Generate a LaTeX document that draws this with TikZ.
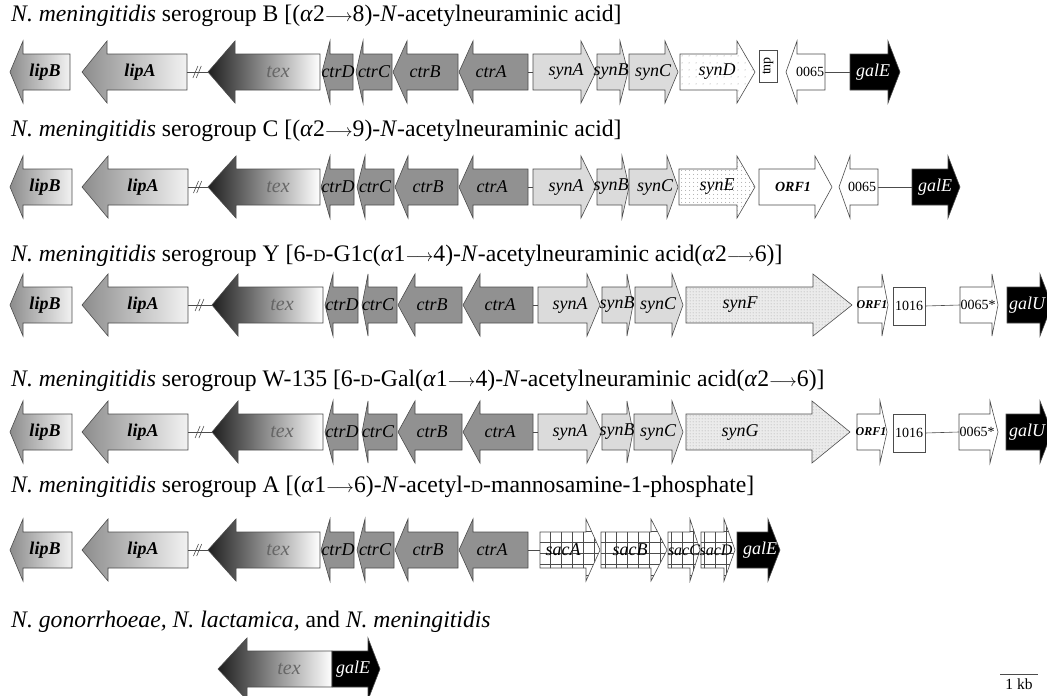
\documentclass[tikz,border=0pt]{standalone}
\usepackage{fontspec}
\usepackage{graphicx}
\setmainfont{Liberation Serif}
\usetikzlibrary{patterns}
\pgfdeclarepatternformonly{sparsedots}{\pgfqpoint{0pt}{0pt}}{\pgfqpoint{7pt}{7pt}}{\pgfqpoint{7pt}{7pt}}{\pgfpathcircle{\pgfqpoint{3.5pt}{3.5pt}}{0.55pt}\pgfusepath{fill}}
\pgfdeclarepatternformonly{mediumdots}{\pgfqpoint{0pt}{0pt}}{\pgfqpoint{4pt}{4pt}}{\pgfqpoint{4pt}{4pt}}{\pgfpathcircle{\pgfqpoint{2pt}{2pt}}{0.5pt}\pgfusepath{fill}}
\pgfdeclarepatternformonly{densedots}{\pgfqpoint{0pt}{0pt}}{\pgfqpoint{2.6pt}{2.6pt}}{\pgfqpoint{2.6pt}{2.6pt}}{\pgfpathcircle{\pgfqpoint{1.3pt}{1.3pt}}{0.45pt}\pgfusepath{fill}}
\pgfdeclarepatternformonly{sacgrid}{\pgfqpoint{-1pt}{-1pt}}{\pgfqpoint{12pt}{12pt}}{\pgfqpoint{11pt}{11pt}}{\pgfsetlinewidth{0.6pt}\pgfpathmoveto{\pgfqpoint{0pt}{0pt}}\pgfpathlineto{\pgfqpoint{0pt}{11.1pt}}\pgfpathmoveto{\pgfqpoint{0pt}{0pt}}\pgfpathlineto{\pgfqpoint{11.1pt}{0pt}}\pgfusepath{stroke}}
% right-pointing gene: name, tail, base, tip, yc, fill style, label, label x
\newcommand\gR[8]{%
  \path[gene,#6] (#2,#5-18) -- (#3,#5-18) -- (#3,#5-31) -- (#4,#5) -- (#3,#5+31) -- (#3,#5+18) -- (#2,#5+18) -- cycle;
  \coordinate (#1-t) at (#2,#5);
  \coordinate (#1-h) at (#4,#5);
  \node[glabel] (#1) at (#8,#5) {#7};}
% left-pointing gene: name, tip, base, tail, yc, fill style, label, label x
\newcommand\gL[8]{%
  \path[gene,#6] (#2,#5) -- (#3,#5-31) -- (#3,#5-18) -- (#4,#5-18) -- (#4,#5+18) -- (#3,#5+18) -- (#3,#5+31) -- cycle;
  \coordinate (#1-h) at (#2,#5);
  \coordinate (#1-t) at (#4,#5);
  \node[glabel] (#1) at (#8,#5) {#7};}
\newcommand\brk[1]{%
  \draw[conn] (#1-lipA-t) -- (#1-tex-h);
  \path (#1-lipA-t) -- (#1-tex-h) coordinate[pos=0.40] (#1-b1) coordinate[pos=0.56] (#1-b2);
  \draw[conn] ([shift={(-2.5,6)}]#1-b1) -- ([shift={(2.5,-6)}]#1-b1);
  \draw[conn] ([shift={(-2.5,6)}]#1-b2) -- ([shift={(2.5,-6)}]#1-b2);}
\newcommand\arr{{\fontsize{17}{17}\selectfont$\longrightarrow$}}
\newcommand\smD{{\fontsize{17}{17}\selectfont D}}
\newcommand\texlab{{\fontsize{20}{20}\selectfont\color{black!60}tex}}
\newcommand\numlab[1]{\upshape\fontsize{14}{14}\selectfont #1}
\begin{document}
\begin{tikzpicture}[x=1pt,y=-1pt,
  gene/.style={draw=black!70,line width=0.6pt},
  glabel/.style={font=\fontsize{18}{18}\selectfont\itshape,inner sep=0pt},
  conn/.style={draw=black!70,line width=0.6pt},
  boxgene/.style={draw=black!70,line width=0.6pt,fill=white,inner sep=0pt,font=\fontsize{14}{14}\selectfont},
  title/.style={anchor=west,inner sep=0pt,font=\fontsize{23.7}{24}\selectfont},
  lipfill/.style={left color=black!45,right color=black!5},
  texfill/.style={left color=black!88,right color=white},
  ctrfill/.style={fill=black!43},
  synfill/.style={fill=black!14},
  sparse/.style={fill=white,postaction={pattern=sparsedots,pattern color=black!50}},
  medium/.style={fill=white,postaction={pattern=mediumdots,pattern color=black!50}},
  dense/.style={fill=black!8,postaction={pattern=densedots,pattern color=black!45}},
  sacfill/.style={fill=white,postaction={pattern=sacgrid,pattern color=black!70}},
  blackfill/.style={fill=black},
  whitefill/.style={fill=white}]
\useasboundingbox (0,0) rectangle (1047,696);
\clip (0,0) rectangle (1047,696);

% ---------------- Serogroup B ----------------
\node[title] (tB) at (11,16) {\textit{N. meningitidis} serogroup B [(\textit{α}2\arr8)-\textit{N}-acetylneuraminic acid]};
\gL{B-lipB}{10}{23}{70}{72}{lipfill}{\bfseries lipB}{45}
\gL{B-lipA}{82}{107}{187}{72}{lipfill}{\bfseries lipA}{140}
\gL{B-tex}{208}{235}{320}{72}{texfill}{\texlab}{278}
\gL{B-ctrD}{322}{330}{353}{72}{ctrfill}{ctrD}{338}
\gL{B-ctrC}{356}{363}{392}{72}{ctrfill}{ctrC}{374}
\gL{B-ctrB}{393}{407}{458}{72}{ctrfill}{ctrB}{425}
\gL{B-ctrA}{459}{473}{528}{72}{ctrfill}{ctrA}{491}
\gR{B-synA}{533}{581}{596}{72}{synfill}{synA}{566}
\gR{B-synB}{597}{620}{628}{72}{synfill}{synB}{611}
\gR{B-synC}{629}{665}{678}{72}{synfill}{synC}{653}
\gR{B-synD}{680}{737}{755}{72}{sparse}{synD}{717}
\node[boxgene,minimum width=18pt,minimum height=32pt] (B-tnp) at (768,66) {\rotatebox{90}{tnp}};
\gL{B-0065}{786}{797}{825}{72}{whitefill}{\numlab{0065}}{810}
\gR{B-galE}{850}{888}{900}{72}{blackfill}{\color{white}galE}{873}
\brk{B}
\draw[conn] (B-ctrA-t) -- (B-synA-t);
\draw[conn] (B-0065-t) -- (B-galE-t);

% ---------------- Serogroup C ----------------
\node[title] (tC) at (11,131) {\textit{N. meningitidis} serogroup C [(\textit{α}2\arr9)-\textit{N}-acetylneuraminic acid]};
\gL{C-lipB}{10}{23}{72}{187}{lipfill}{\bfseries lipB}{45}
\gL{C-lipA}{82}{108}{188}{187}{lipfill}{\bfseries lipA}{143}
\gL{C-tex}{208}{236}{320}{187}{texfill}{\texlab}{278}
\gL{C-ctrD}{321}{330}{354}{187}{ctrfill}{ctrD}{338}
\gL{C-ctrC}{357}{365}{394}{187}{ctrfill}{ctrC}{375}
\gL{C-ctrB}{395}{408}{458}{187}{ctrfill}{ctrB}{428}
\gL{C-ctrA}{459}{473}{528}{187}{ctrfill}{ctrA}{492}
\gR{C-synA}{533}{581}{596}{187}{synfill}{synA}{566}
\gR{C-synB}{597}{622}{629}{187}{synfill}{synB}{611}
\gR{C-synC}{629}{667}{678}{187}{synfill}{synC}{655}
\gR{C-synE}{679}{737}{755}{187}{medium}{synE}{717}
\gR{C-ORF1}{759}{815}{832}{187}{whitefill}{\bfseries\fontsize{14}{14}\selectfont ORF1}{793}
\gL{C-0065}{839}{850}{878}{187}{whitefill}{\numlab{0065}}{862}
\gR{C-galE}{912}{948}{960}{187}{blackfill}{\color{white}galE}{935}
\brk{C}
\draw[conn] (C-ctrA-t) -- (C-synA-t);
\draw[conn] (C-0065-t) -- (C-galE-t);

% ---------------- Serogroup Y ----------------
\node[title] (tY) at (11,256) {\textit{N. meningitidis} serogroup Y [6-\smD-G1c(\textit{α}1\arr4)-\textit{N}-acetylneuraminic acid(\textit{α}2\arr6)]};
\gL{Y-lipB}{10}{23}{72}{305}{lipfill}{\bfseries lipB}{45}
\gL{Y-lipA}{82}{108}{188}{305}{lipfill}{\bfseries lipA}{143}
\gL{Y-tex}{212}{238}{323}{305}{texfill}{\texlab}{282}
\gL{Y-ctrD}{325}{333}{358}{305}{ctrfill}{ctrD}{342}
\gL{Y-ctrC}{362}{368}{397}{305}{ctrfill}{ctrC}{378}
\gL{Y-ctrB}{398}{415}{462}{305}{ctrfill}{ctrB}{432}
\gL{Y-ctrA}{463}{480}{533}{305}{ctrfill}{ctrA}{500}
\gR{Y-synA}{538}{587}{600}{305}{synfill}{synA}{570}
\gR{Y-synB}{602}{627}{633}{305}{synfill}{synB}{617}
\gR{Y-synC}{635}{672}{683}{305}{synfill}{synC}{658}
\gR{Y-synF}{686}{813}{852}{305}{dense}{synF}{740}
\gR{Y-ORF1}{858}{882}{888}{305}{whitefill}{\bfseries\fontsize{12}{12}\selectfont ORF1}{872}
\node[boxgene,minimum width=32pt,minimum height=38pt] (Y-1016) at (909,306) {1016};
\gR{Y-0065}{960}{992}{998}{305}{whitefill}{\numlab{0065*}}{978}
\gR{Y-galU}{1007}{1040}{1052}{305}{blackfill}{\color{white}galU}{1027}
\brk{Y}
\draw[conn] (Y-ctrA-t) -- (Y-synA-t);
\draw[conn] (Y-1016.east) -- (Y-0065-t);

% ---------------- Serogroup W-135 ----------------
\node[title] (tW) at (11,381) {\textit{N. meningitidis} serogroup W-135 [6-\smD-Gal(\textit{α}1\arr4)-\textit{N}-acetylneuraminic acid(\textit{α}2\arr6)]};
\gL{W-lipB}{10}{23}{72}{432}{lipfill}{\bfseries lipB}{45}
\gL{W-lipA}{82}{108}{188}{432}{lipfill}{\bfseries lipA}{143}
\gL{W-tex}{212}{238}{323}{432}{texfill}{\texlab}{282}
\gL{W-ctrD}{325}{333}{358}{432}{ctrfill}{ctrD}{342}
\gL{W-ctrC}{362}{368}{397}{432}{ctrfill}{ctrC}{378}
\gL{W-ctrB}{398}{415}{462}{432}{ctrfill}{ctrB}{432}
\gL{W-ctrA}{463}{480}{533}{432}{ctrfill}{ctrA}{500}
\gR{W-synA}{538}{587}{602}{432}{synfill}{synA}{570}
\gR{W-synB}{602}{627}{633}{432}{synfill}{synB}{617}
\gR{W-synC}{634}{672}{683}{432}{synfill}{synC}{658}
\gR{W-synG}{686}{812}{850}{432}{dense}{synG}{740}
\gR{W-ORF1}{857}{880}{887}{432}{whitefill}{\bfseries\fontsize{12}{12}\selectfont ORF1}{871}
\node[boxgene,minimum width=32pt,minimum height=38pt] (W-1016) at (909,433) {1016};
\gR{W-0065}{959}{990}{998}{432}{whitefill}{\numlab{0065*}}{977}
\gR{W-galU}{1006}{1040}{1052}{432}{blackfill}{\color{white}galU}{1027}
\brk{W}
\draw[conn] (W-ctrA-t) -- (W-synA-t);
\draw[conn] (W-1016.east) -- (W-0065-t);

% ---------------- Serogroup A ----------------
\node[title] (tA) at (11,487) {\textit{N. meningitidis} serogroup A [(\textit{α}1\arr6)-\textit{N}-acetyl-\smD-mannosamine-1-phosphate]};
\gL{A-lipB}{10}{23}{72}{550}{lipfill}{\bfseries lipB}{45}
\gL{A-lipA}{82}{108}{188}{550}{lipfill}{\bfseries lipA}{143}
\gL{A-tex}{208}{236}{320}{550}{texfill}{\texlab}{278}
\gL{A-ctrD}{321}{330}{354}{550}{ctrfill}{ctrD}{338}
\gL{A-ctrC}{357}{365}{394}{550}{ctrfill}{ctrC}{375}
\gL{A-ctrB}{395}{408}{458}{550}{ctrfill}{ctrB}{428}
\gL{A-ctrA}{459}{473}{528}{550}{ctrfill}{ctrA}{492}
\gR{A-sacA}{540}{586}{600}{550}{sacfill}{sacA}{563}
\gR{A-sacB}{601}{651}{667}{550}{sacfill}{sacB}{630}
\gR{A-sacC}{668}{690}{700}{550}{sacfill}{\fontsize{16}{16}\selectfont sacC}{684}
\gR{A-sacD}{701}{724}{735}{550}{sacfill}{\fontsize{16}{16}\selectfont sacD}{716}
\gR{A-galE}{737}{768}{780}{550}{blackfill}{\color{white}galE}{760}
\brk{A}
\draw[conn] (A-ctrA-t) -- (A-sacA-t);

% ---------------- tex / galE ----------------
\node[title] (tG) at (11,622) {\textit{N. gonorrhoeae, N. lactamica,} and \textit{N. meningitidis}};
\gL{G-tex}{218}{247}{332}{669}{texfill}{\texlab}{289}
\gR{G-galE}{332}{368}{380}{669}{blackfill}{\color{white}galE}{353}

% scale bar
\coordinate (sb-l) at (1000,674);
\coordinate (sb-r) at (1038,674);
\draw[line width=0.7pt,black!70] (sb-l) -- (sb-r);
\node[inner sep=0pt,anchor=north,font=\fontsize{15.5}{15.5}\selectfont] (sb) at (1019,679) {1 kb};
\end{tikzpicture}
\end{document}
